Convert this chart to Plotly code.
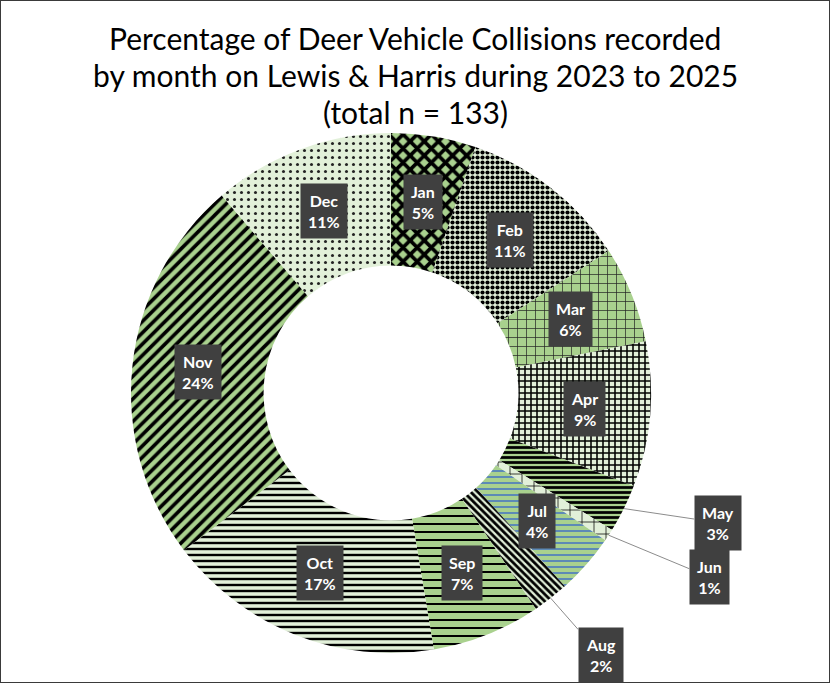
import math
import plotly.graph_objects as go

# ---- data ----
months = ["Jan", "Feb", "Mar", "Apr", "May", "Jun", "Jul", "Aug", "Sep", "Oct", "Nov", "Dec"]
counts = [7, 14, 8, 12, 4, 1, 5, 3, 9, 23, 32, 15]
outside_labels = ["May", "Jun", "Aug"]
title_lines = ["Percentage of Deer Vehicle Collisions recorded",
               "by month on Lewis &amp; Harris during 2023 to 2025",
               "(total n = 133)"]

# ---- styles ----
LIGHT = "#e2f0d9"
MED = "#a9d18e"
bg_colors = [MED, LIGHT, MED, LIGHT, MED, LIGHT, MED, LIGHT, MED, LIGHT, MED, LIGHT]
fg_colors = ["#000000", "#000000", "#222222", "#000000", "#000000", "#000000",
             "#4472c4", "#000000", "#000000", "#000000", "#000000", "#222222"]
shapes_p = ["x", ".", "+", "+", "-", "+", "-", "\\", "-", "-", "/", "."]
sizes_p = [10, 5, 9, 6, 5, 12, 6, 5, 8, 6, 8, 7]
solid_p = [0.6, 0.55, 0.15, 0.45, 0.55, 0.12, 0.25, 0.55, 0.25, 0.4, 0.45, 0.15]

W, H = 830, 683
CX, CY, R = 391, 393, 260  # pixel centre / radius of donut
HOLE = 0.49

dom_x = [(CX - R) / W, (CX + R) / W]
dom_y = [(H - CY - R) / H, (H - CY + R) / H]

total = sum(counts)

fig = go.Figure(go.Pie(
    labels=months,
    values=counts,
    sort=False,
    direction="clockwise",
    rotation=0,
    hole=HOLE,
    textinfo="none",
    hoverinfo="label+percent",
    domain=dict(x=dom_x, y=dom_y),
    showlegend=False,
    marker=dict(
        colors=bg_colors,
        line=dict(width=0),
        pattern=dict(shape=shapes_p, fgcolor=fg_colors, bgcolor=bg_colors, fgopacity=1,
                     size=sizes_p, solidity=solid_p, fillmode="overlay"),
    ),
))

LABEL_FONT = dict(color="white", size=16, family="Lato")
annotations = []
offsets = {"May": (94, 14), "Jun": (101, 42), "Aug": (50, 57)}
cum = 0
for m, v in zip(months, counts):
    mid = (cum + v / 2) / total
    cum += v
    theta = 2 * math.pi * mid
    pct = round(100 * v / total)
    txt = f"<b>{m}<br>{pct}%</b>"
    if m in outside_labels:
        hx = CX + R * math.sin(theta)
        hy = CY - R * math.cos(theta)
        ax, ay = offsets[m]
        annotations.append(dict(
            x=hx / W, y=1 - hy / H, xref="paper", yref="paper",
            text=txt, showarrow=True, arrowhead=0, arrowwidth=1, arrowcolor="#8c8c8c",
            ax=ax, ay=ay, bgcolor="#404040", borderpad=7,
            font=LABEL_FONT, align="center",
        ))
    else:
        rl = R * (1 + HOLE) / 2
        lx = CX + rl * math.sin(theta)
        ly = CY - rl * math.cos(theta)
        annotations.append(dict(
            x=lx / W, y=1 - ly / H, xref="paper", yref="paper",
            xanchor="center", yanchor="middle",
            text=txt, showarrow=False, bgcolor="#404040", borderpad=7,
            font=LABEL_FONT, align="center",
        ))

title_y = [38, 75, 112]
for line, ty in zip(title_lines, title_y):
    annotations.append(dict(
        x=0.5, y=1 - ty / H, xref="paper", yref="paper", xanchor="center", yanchor="middle",
        text=line, showarrow=False, font=dict(size=30, color="#000000", family="Lato"),
    ))

fig.update_layout(
    width=W, height=H,
    margin=dict(l=0, r=0, t=0, b=0),
    paper_bgcolor="white",
    plot_bgcolor="white",
    annotations=annotations,
    shapes=[dict(type="rect", xref="paper", yref="paper", x0=0, y0=0, x1=1, y1=1,
                 line=dict(color="#3a3a3a", width=2))],
)

fig.write_html("out.html")
